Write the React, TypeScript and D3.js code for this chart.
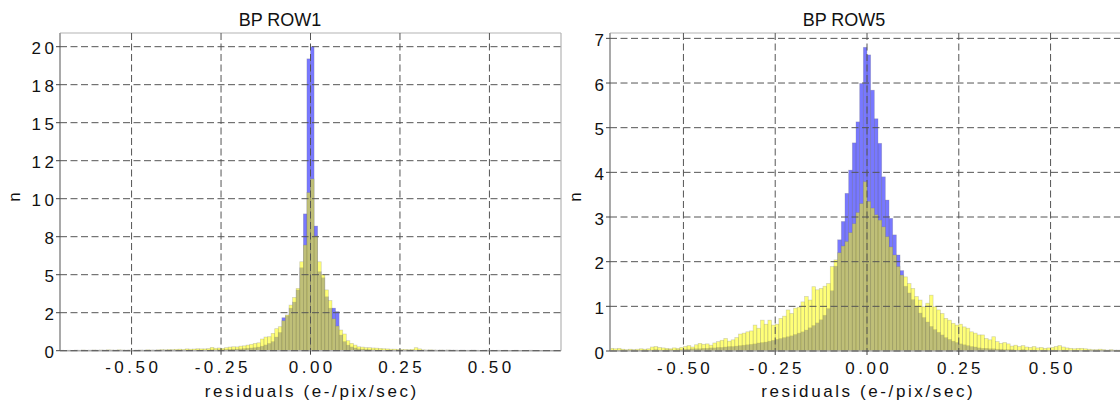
import React from 'react';
import * as d3 from 'd3';

const BIN_WIDTH = 0.01;
const binStarts: number[] = d3.range(140).map((i) => +(-0.7 + i * BIN_WIDTH).toFixed(2));

// BP ROW1 (bins -0.70 .. 0.69)
const row1Blue = [
  0.01, 0.01, 0.02, 0.01, 0.01, 0.02, 0.01, 0.02, 0.01, 0.02,
  0.01, 0.02, 0.02, 0.01, 0.02, 0.02, 0.01, 0.02, 0.02, 0.02,
  0.02, 0.02, 0.01, 0.02, 0.02, 0.02, 0.03, 0.02, 0.02, 0.03,
  0.02, 0.03, 0.02, 0.03, 0.03, 0.04, 0.03, 0.04, 0.05, 0.04,
  0.05, 0.05, 0.06, 0.06, 0.07, 0.07, 0.08, 0.09, 0.1, 0.11,
  0.12, 0.14, 0.16, 0.18, 0.2, 0.24, 0.3, 0.38, 0.48, 0.6,
  0.9, 1.2, 2.17, 2.3, 2.8, 3.2, 4.0, 5.46, 9.0, 19.2,
  20.0, 8.2, 5.2, 4.8, 3.55, 2.8, 2.8, 2.57, 1.03, 0.6,
  0.37, 0.25, 0.18, 0.12, 0.1, 0.08, 0.07, 0.06, 0.05, 0.05,
  0.04, 0.04, 0.03, 0.03, 0.03, 0.02, 0.02, 0.02, 0.02, 0.03,
  0.03, 0.02, 0.02, 0.01, 0.02, 0.01, 0.02, 0.01, 0.01, 0.02,
  0.01, 0.01, 0.02, 0.01, 0.01, 0.01, 0.02, 0.01, 0.01, 0.01,
  0.01, 0.01, 0.01, 0.01, 0.01, 0.01, 0.01, 0.01, 0.01, 0.01,
  0.01, 0.01, 0.01, 0.01, 0.01, 0.01, 0.01, 0.01, 0.01, 0.01,
];
const row1Yellow = [
  0.03, 0.02, 0.03, 0.02, 0.04, 0.03, 0.05, 0.03, 0.04, 0.05,
  0.04, 0.05, 0.04, 0.06, 0.05, 0.04, 0.06, 0.05, 0.04, 0.05,
  0.03, 0.04, 0.05, 0.04, 0.06, 0.05, 0.04, 0.06, 0.07, 0.06,
  0.08, 0.07, 0.09, 0.1, 0.08, 0.12, 0.1, 0.11, 0.13, 0.12,
  0.12, 0.14, 0.22, 0.16, 0.18, 0.15, 0.2, 0.24, 0.26, 0.25,
  0.3, 0.32, 0.37, 0.42, 0.48, 0.52, 0.77, 0.9, 0.92, 1.14,
  1.45, 1.58, 1.97, 2.35, 3.0, 3.5, 4.1, 5.85, 6.95, 10.4,
  11.3, 7.55, 5.85, 5.0, 4.0, 3.3, 2.1, 1.62, 1.36, 1.1,
  0.66, 0.48, 0.37, 0.26, 0.24, 0.2, 0.2, 0.18, 0.17, 0.15,
  0.13, 0.12, 0.1, 0.1, 0.09, 0.08, 0.08, 0.07, 0.09, 0.2,
  0.12, 0.06, 0.05, 0.06, 0.05, 0.04, 0.05, 0.04, 0.05, 0.04,
  0.04, 0.03, 0.04, 0.03, 0.03, 0.04, 0.03, 0.02, 0.03, 0.04,
  0.03, 0.02, 0.03, 0.02, 0.03, 0.02, 0.02, 0.03, 0.02, 0.02,
  0.02, 0.03, 0.02, 0.02, 0.01, 0.02, 0.02, 0.01, 0.02, 0.02,
];

// BP ROW5 (bins -0.70 .. 0.69)
const row5Blue = [
  0.02, 0.01, 0.02, 0.02, 0.01, 0.02, 0.02, 0.01, 0.02, 0.02,
  0.02, 0.02, 0.03, 0.02, 0.02, 0.03, 0.03, 0.02, 0.03, 0.03,
  0.04, 0.04, 0.05, 0.05, 0.05, 0.06, 0.06, 0.07, 0.07, 0.08,
  0.08, 0.09, 0.1, 0.1, 0.11, 0.12, 0.13, 0.14, 0.15, 0.16,
  0.18, 0.19, 0.2, 0.22, 0.24, 0.26, 0.28, 0.3, 0.32, 0.34,
  0.37, 0.4, 0.43, 0.47, 0.52, 0.57, 0.63, 0.7, 0.8, 0.95,
  1.35, 1.9, 2.49, 2.9, 3.53, 4.05, 4.66, 5.13, 5.99, 6.8,
  6.63, 5.84, 5.2, 4.65, 3.9, 3.38, 2.97, 2.6, 2.15, 1.8,
  1.45, 1.3, 1.15, 1.0, 0.85, 0.75, 0.65, 0.55, 0.48, 0.42,
  0.36, 0.3, 0.26, 0.22, 0.19, 0.16, 0.14, 0.12, 0.1, 0.09,
  0.07, 0.06, 0.06, 0.05, 0.05, 0.04, 0.04, 0.03, 0.03, 0.03,
  0.02, 0.02, 0.03, 0.02, 0.02, 0.02, 0.01, 0.02, 0.02, 0.01,
  0.02, 0.01, 0.01, 0.02, 0.01, 0.01, 0.01, 0.01, 0.01, 0.01,
  0.01, 0.01, 0.01, 0.01, 0.01, 0.01, 0.01, 0.01, 0.01, 0.01,
];
const row5Yellow = [
  0.06, 0.05, 0.06, 0.04, 0.03, 0.04, 0.03, 0.04, 0.05, 0.04,
  0.05, 0.09, 0.1, 0.08, 0.07, 0.06, 0.05, 0.07, 0.06, 0.08,
  0.1, 0.12, 0.09, 0.14, 0.17, 0.15, 0.16, 0.13, 0.18, 0.21,
  0.24, 0.28, 0.22, 0.25, 0.3, 0.38, 0.4, 0.43, 0.45, 0.58,
  0.51, 0.69, 0.6, 0.69, 0.58, 0.6, 0.73, 0.78, 0.92, 0.84,
  0.96, 0.98, 1.1, 1.22, 1.14, 1.44, 1.37, 1.4, 1.45, 1.51,
  1.89, 2.04, 2.2, 2.35, 2.45, 2.65, 2.85, 3.1, 3.3, 3.79,
  3.35, 3.2, 3.05, 2.93, 2.78, 2.56, 2.33, 2.15, 1.89, 1.7,
  1.66, 1.51, 1.4, 1.22, 1.14, 0.99, 1.07, 1.25, 0.99, 0.92,
  0.84, 0.73, 0.69, 0.62, 0.58, 0.6, 0.54, 0.51, 0.43, 0.4,
  0.36, 0.36, 0.28, 0.25, 0.32, 0.21, 0.17, 0.19, 0.16, 0.11,
  0.13, 0.1, 0.12, 0.09, 0.08, 0.1, 0.07, 0.08, 0.06, 0.07,
  0.08, 0.1, 0.12, 0.09, 0.07, 0.06, 0.05, 0.06, 0.06, 0.05,
  0.04, 0.03, 0.03, 0.04, 0.03, 0.02, 0.03, 0.02, 0.02, 0.03,
];

const xTicks = [-0.5, -0.25, 0, 0.25, 0.5];
const xTickLabels = ['-0.50', '-0.25', '0.00', '0.25', '0.50'];
const row1YTicks = [0, 2.5, 5, 7.5, 10, 12.5, 15, 17.5, 20];
const row1YTickLabels = ['0', '2', '5', '8', '10', '12', '15', '18', '20'];
const row5YTicks = [0, 1, 2, 3, 4, 5, 6, 7];
const row5YTickLabels = ['0', '1', '2', '3', '4', '5', '6', '7'];

const FONT = '"Liberation Sans", Arial, Helvetica, sans-serif';
const TICK_LS = 3.5;
const TITLE_LS = 2.6;

type PanelProps = {
  title: string;
  titleX: number;
  left: number;
  right: number;
  top: number;
  bottom: number;
  yMax: number;
  yTicks: number[];
  yLabels: string[];
  blue: number[];
  yellow: number[];
  nX: number;
  clipId: string;
};

function Panel(p: PanelProps) {
  const x = d3.scaleLinear().domain([-0.7, 0.7]).range([p.left, p.right]);
  const y = d3.scaleLinear().domain([0, p.yMax]).range([p.bottom, p.top]);
  const cx = (p.left + p.right) / 2;
  const bar = (vals: number[], fill: string, key: string) =>
    vals.map((v, i) => {
      const x0 = x(binStarts[i]);
      const x1 = x(binStarts[i] + BIN_WIDTH);
      return (
        <rect
          key={key + i}
          x={x0}
          y={y(v)}
          width={x1 - x0}
          height={y(0) - y(v)}
          fill={fill}
          fillOpacity={0.53}
          stroke="#707070"
          strokeOpacity={0.3}
          strokeWidth={0.7}
        />
      );
    });
  return (
    <g>
      <text x={p.titleX} y={26} textAnchor="middle" fontSize={18} fontFamily={FONT} fill="#111">
        {p.title}
      </text>
      <g clipPath={`url(#${p.clipId})`}>
        {bar(p.blue, '#0000ff', 'b')}
        {bar(p.yellow, '#ffff00', 'y')}
      </g>
      {/* frame */}
      <line x1={p.left} x2={p.right} y1={p.top} y2={p.top} stroke="#b4b4b4" strokeWidth={1.2} />
      <line x1={p.right} x2={p.right} y1={p.top} y2={p.bottom} stroke="#b4b4b4" strokeWidth={1.2} />
      <line x1={p.left} x2={p.right} y1={p.bottom} y2={p.bottom} stroke="#a8a8a8" strokeWidth={1.6} />
      <line x1={p.left} x2={p.left} y1={p.top} y2={p.bottom} stroke="#a0a0a0" strokeWidth={1.8} />
      {/* grid */}
      {p.yTicks.map((t) => (
        <line key={'gy' + t} x1={p.left} x2={p.right} y1={y(t)} y2={y(t)} stroke="#555" strokeWidth={1} strokeDasharray="7,3.5" />
      ))}
      {xTicks.map((t) => (
        <line key={'gx' + t} x1={x(t)} x2={x(t)} y1={p.top} y2={p.bottom} stroke="#555" strokeWidth={1} strokeDasharray="7,3.5" />
      ))}
      {/* ticks */}
      {p.yTicks.map((t) => (
        <line key={'ty' + t} x1={p.left - 4} x2={p.left} y1={y(t)} y2={y(t)} stroke="#444" strokeWidth={1} />
      ))}
      {xTicks.map((t) => (
        <line key={'tx' + t} x1={x(t)} x2={x(t)} y1={p.bottom} y2={p.bottom + 4} stroke="#444" strokeWidth={1} />
      ))}
      {/* tick labels */}
      {p.yTicks.map((t, i) => (
        <text
          key={'ly' + t}
          x={p.left - 6 + TICK_LS}
          y={y(t) + 7.5}
          textAnchor="end"
          fontSize={17}
          letterSpacing={TICK_LS}
          fontFamily={FONT}
          fill="#111"
        >
          {p.yLabels[i]}
        </text>
      ))}
      {xTicks.map((t, i) => (
        <text
          key={'lx' + t}
          x={x(t) + TICK_LS / 2}
          y={p.bottom + 22.5}
          textAnchor="middle"
          fontSize={17}
          letterSpacing={TICK_LS}
          fontFamily={FONT}
          fill="#111"
        >
          {xTickLabels[i]}
        </text>
      ))}
      <text
        x={cx + TITLE_LS / 2}
        y={397}
        textAnchor="middle"
        fontSize={17}
        letterSpacing={TITLE_LS}
        fontFamily={FONT}
        fill="#111"
      >
        residuals (e-/pix/sec)
      </text>
      <text
        transform={`translate(${p.nX},197) rotate(-90)`}
        textAnchor="middle"
        fontSize={17}
        fontFamily={FONT}
        fill="#111"
      >
        n
      </text>
    </g>
  );
}

export default function App() {
  return (
    <svg
      width={1120}
      height={403}
      style={{ position: 'absolute', left: 0, top: 0, background: '#fff' }}
    >
      <defs>
        <clipPath id="clip1">
          <rect x={60} y={33} width={501} height={318} />
        </clipPath>
        <clipPath id="clip5">
          <rect x={610} y={33} width={514} height={318} />
        </clipPath>
      </defs>
      <rect x={0} y={0} width={1120} height={403} fill="#fff" />
      <Panel
        title="BP ROW1"
        titleX={280}
        left={60}
        right={561}
        top={33}
        bottom={350.7}
        yMax={20.9}
        yTicks={row1YTicks}
        yLabels={row1YTickLabels}
        blue={row1Blue}
        yellow={row1Yellow}
        nX={20}
        clipId="clip1"
      />
      <Panel
        title="BP ROW5"
        titleX={844}
        left={610}
        right={1124}
        top={33}
        bottom={351}
        yMax={7.12}
        yTicks={row5YTicks}
        yLabels={row5YTickLabels}
        blue={row5Blue}
        yellow={row5Yellow}
        nX={581}
        clipId="clip5"
      />
    </svg>
  );
}
